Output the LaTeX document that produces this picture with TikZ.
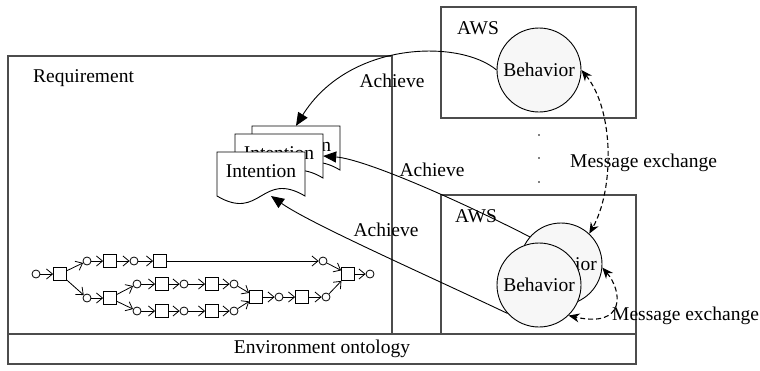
\documentclass[tikz,border=0pt]{standalone}
\usepackage{fontspec}
\setmainfont{Liberation Serif}
\usetikzlibrary{arrows.meta}

% document shape: name, label-node name, top-left x, top-left y
\newcommand\intentiondoc[4]{%
  \path[docshape] (#3,#4) -- (#3+88,#4) -- (#3+88,#4+44)
    .. controls (#3+44,#4+18) and (#3+44,#4+70) .. (#3,#4+44) -- cycle;
  \node[docarea] (#1) at (#3+44,#4+22) {};
  \node[lbl] (#2) at (#3+44,#4+19) {Intention};
}

\begin{document}
\begin{tikzpicture}[x=1pt,y=-1pt,
  every node/.style={font=\fontsize{19.5}{22}\selectfont},
  frame/.style={draw=black!70, line width=1.2pt},
  behavior/.style={circle, draw, line width=0.9pt, fill=black!3, inner sep=0pt},
  docshape/.style={draw, line width=0.9pt, fill=white},
  docarea/.style={rectangle, minimum width=88pt, minimum height=44pt, inner sep=0pt},
  lbl/.style={inner sep=0pt},
  achieve/.style={line width=0.9pt, -{Triangle[length=13pt,width=11pt]}},
  msg/.style={line width=1.1pt, dash pattern=on 5pt off 3pt,
    {Stealth[length=11pt,width=9pt]}-{Stealth[length=11pt,width=9pt]}},
  place/.style={circle, draw, line width=0.8pt, minimum size=8pt, inner sep=0pt},
  trans/.style={rectangle, draw, line width=0.8pt, minimum width=13pt, minimum height=13pt, inner sep=0pt},
  flow/.style={line width=0.8pt, -{Straight Barb[length=6pt,width=10pt]}}
]
\useasboundingbox (0,0) rectangle (760,370);

% frames
\draw[frame] (8,56) rectangle (392,334);
\draw[frame] (8,334) rectangle (636,364);
\draw[frame] (441,7) rectangle (636,118);
\draw[frame] (441,195) rectangle (636,334);

\node[lbl, anchor=base west] (req) at (33,82) {Requirement};
\node[lbl] (env) at (322,349) {Environment ontology};
\node[lbl, anchor=base west] (aws1) at (457,34) {AWS};
\node[lbl, anchor=base west] (aws2) at (455,222) {AWS};

% vertical ellipsis between the two AWS frames
\fill (539,135) circle (0.9pt) (539,158) circle (0.9pt) (539,182) circle (0.9pt);

% stacked intentions
\intentiondoc{i1}{i1t}{252}{126}
\intentiondoc{i2}{i2t}{235}{134}
\intentiondoc{i3}{i3t}{217}{152}
\coordinate (i3w) at (271,196);

% behaviours
\node[behavior, minimum size=84pt] (b1) at (539,70) {Behavior};
\node[behavior, minimum size=82pt] (b2) at (561,264) {Behavior};
\node[behavior, minimum size=84pt] (b3) at (539,285) {Behavior};

% workflow net
\node[place] (p0) at (36,274) {};
\node[trans] (t0) at (60,274) {};
\node[place] (p1) at (87,261) {};
\node[place] (p2) at (87,298) {};
\node[trans] (t1) at (110,261) {};
\node[place] (p3) at (134,261) {};
\node[trans] (t2) at (160,261) {};
\node[place] (p4) at (323,261) {};
\node[trans] (t3) at (110,298) {};
\node[place] (p5) at (137,284) {};
\node[place] (p6) at (137,311) {};
\node[trans] (t4) at (162,284) {};
\node[place] (p7) at (184,284) {};
\node[trans] (t5) at (212,284) {};
\node[place] (p8) at (234,284) {};
\node[trans] (t6) at (162,311) {};
\node[place] (p9) at (184,311) {};
\node[trans] (t7) at (212,311) {};
\node[place] (p10) at (234,311) {};
\node[trans] (t8) at (256,297) {};
\node[place] (p11) at (279,297) {};
\node[trans] (t9) at (302,297) {};
\node[place] (p12) at (326,297) {};
\node[trans] (te) at (348,274) {};
\node[place] (pe) at (370,274) {};

\foreach \a/\b in {p0/t0, t0/p1, t0/p2, p1/t1, t1/p3, p3/t2, t2/p4, p4/te,
                   p2/t3, t3/p5, t3/p6, p5/t4, t4/p7, p7/t5, t5/p8,
                   p6/t6, t6/p9, p9/t7, t7/p10, p8/t8, p10/t8,
                   t8/p11, p11/t9, t9/p12, p12/te, te/pe}
  \draw[flow] (\a) -- (\b);

% achieve links
\draw[achieve] (b1.west) .. controls +(-37,-31) and +(53,-85) .. (i1.north);
\draw[achieve] (b2.139) .. controls +(-78,-40) and +(40,3) .. (i2.east);
\draw[achieve] (b3.222) .. controls +(-80,-38) and +(40,28) .. (i3w);
\node[lbl] (ach1) at (392,81) {Achieve};
\node[lbl] (ach2) at (432,170) {Achieve};
\node[lbl] (ach3) at (386,230) {Achieve};

% message exchange
\draw[msg] (b1.east) .. controls +(33,40) and +(25,-44) .. (b2.47);
\draw[msg] (b2.-5) .. controls +(20,23) and +(58,13) .. (b3.-46);
\node[lbl, anchor=base west] (msg1) at (570,167) {Message exchange};
\node[lbl, anchor=base west] (msg2) at (612,320) {Message exchange};
\end{tikzpicture}
\end{document}
